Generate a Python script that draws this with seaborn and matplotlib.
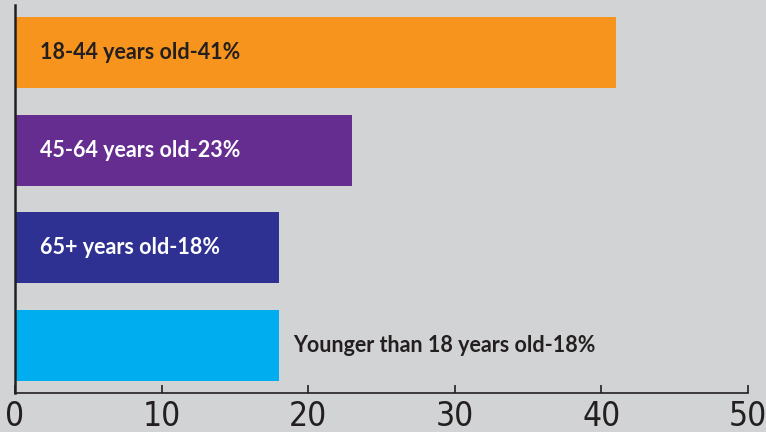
import pandas as pd
import seaborn as sns
import matplotlib.pyplot as plt
from matplotlib import font_manager

groups = ['18-44 years old', '45-64 years old', '65+ years old', 'Younger than 18 years old']
shares = [41, 23, 18, 18]
bar_colours = ['#f7941d', '#662d91', '#2e3192', '#00aeef']
label_colours = ['#231f20', 'white', 'white', '#231f20']
x_ticks = [0, 10, 20, 30, 40, 50]

df = pd.DataFrame({'group': groups, 'share': shares})

sns.set_style('white')
plt.rcParams['font.family'] = ['Lato', 'DejaVu Sans']

# narrow font for the axis numbers, if there is one
tick_font = None
for name in ['Liberation Sans Narrow', 'Arial Narrow']:
    try:
        path = font_manager.findfont(font_manager.FontProperties(family=name), fallback_to_default=False)
        tick_font = font_manager.FontProperties(fname=path, size=26)
        break
    except ValueError:
        pass
if tick_font is None:
    tick_font = font_manager.FontProperties(family='DejaVu Sans', stretch='condensed', size=24)

fig = plt.figure(figsize=(7.66, 4.32), dpi=100)
fig.patch.set_facecolor('#d1d3d4')
ax = fig.add_axes([0.0196, 0.0903, 0.9569, 0.8977])
ax.set_facecolor('#d1d3d4')

sns.barplot(data=df, x='share', y='group', hue='group', palette=bar_colours,
            legend=False, width=0.727, saturation=1, linewidth=0, ax=ax)

for i, (g, v) in enumerate(zip(groups, shares)):
    if i == 3:
        xpos = v + 1.0
    else:
        xpos = 1.7
    ax.text(xpos, i, f'{g}-{v}%', color=label_colours[i], fontsize=15.5,
            fontweight='bold', va='center', ha='left')

ax.set_xlim(0, 50)
ax.set_ylim(3.486, -0.486)
ax.set_xticks(x_ticks)
ax.set_xticklabels([str(t) for t in x_ticks], color='#231f20', fontproperties=tick_font)
ax.set_yticks([])
ax.set_xlabel('')
ax.set_ylabel('')
ax.tick_params(axis='x', bottom=True, direction='in', length=6, width=1.2, color='#231f20', pad=5)

for s in ['top', 'right']:
    ax.spines[s].set_visible(False)
ax.spines['left'].set_color('#231f20')
ax.spines['left'].set_linewidth(1.8)
ax.spines['bottom'].set_color('#231f20')
ax.spines['bottom'].set_linewidth(1.2)

fig.savefig('out.png', dpi=100, facecolor=fig.get_facecolor())
